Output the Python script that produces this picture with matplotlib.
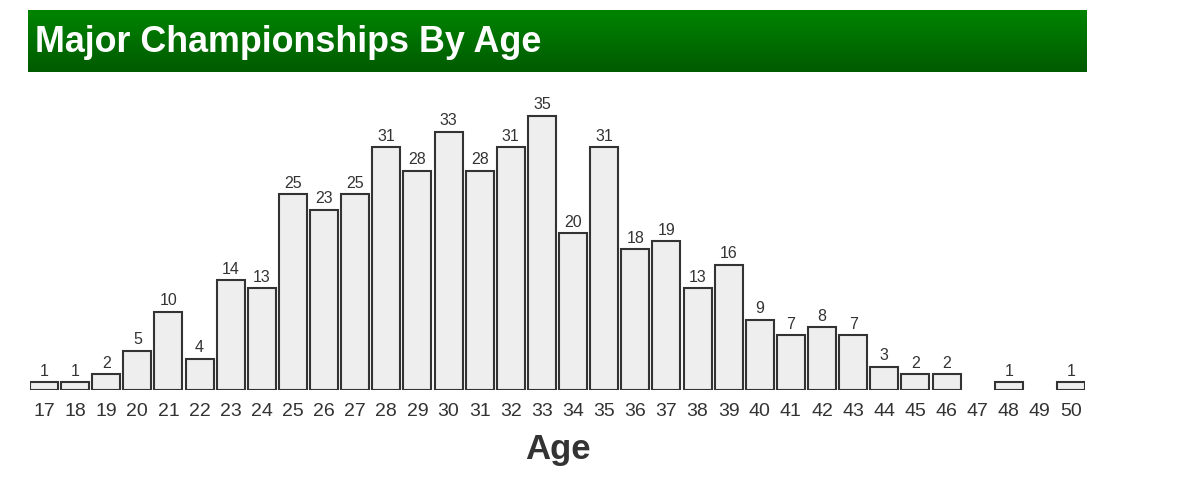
import numpy as np
import matplotlib
matplotlib.use("Agg")
import matplotlib.pyplot as plt

ages = list(range(17, 51))
counts = [1, 1, 2, 5, 10, 4, 14, 13, 25, 23, 25, 31, 28, 33, 28, 31, 35, 20, 31,
          18, 19, 13, 16, 9, 7, 8, 7, 3, 2, 2, 0, 1, 0, 1]
title = "Major Championships By Age"
xlabel = "Age"

plt.rcParams['font.family'] = ['Liberation Sans', 'DejaVu Sans']

W, H = 1179, 492
fig = plt.figure(figsize=(W / 100, H / 100), dpi=100)

# title banner with vertical gradient
bx0, bx1, by0, by1 = 28, 1087, 10, 72
bax = fig.add_axes([bx0 / W, 1 - by1 / H, (bx1 - bx0) / W, (by1 - by0) / H])
grad = np.linspace(0, 1, 100).reshape(-1, 1)
top = np.array([0x00, 0x84, 0x00]) / 255
bot = np.array([0x00, 0x5a, 0x00]) / 255
img = top[None, None, :] * (1 - grad[..., None]) + bot[None, None, :] * grad[..., None]
bax.imshow(img, aspect='auto', extent=[0, 1, 0, 1])
bax.set_axis_off()
bax.text(0.0066, 0.47, title, color='white', fontsize=25.8, fontweight='bold',
         va='center', ha='left', transform=bax.transAxes)

# main axes
base_px = 390
top_px = 108
ax = fig.add_axes([30 / W, 1 - base_px / H, (1085 - 30) / W, (base_px - top_px) / H])
nz_ages = [a for a, c in zip(ages, counts) if c > 0]
nz_counts = [c for c in counts if c > 0]
ax.bar(nz_ages, nz_counts, width=0.9, color='#eeeeee', edgecolor='#333333', linewidth=1.5)
for a, c in zip(nz_ages, nz_counts):
    ax.annotate(str(c), (a, c), xytext=(0, 2.5), textcoords='offset points',
                ha='center', va='bottom', fontsize=11.5, color='#333333')
ax.set_xlim(16.55, 50.45)
ax.set_ylim(0, 36)
ax.set_xticks(ages)
ax.set_xticklabels([str(a) for a in ages])
ax.tick_params(axis='x', length=0, pad=9, labelsize=14, labelcolor='#333333')
ax.set_yticks([])
for s in ax.spines.values():
    s.set_visible(False)
ax.set_xlabel(xlabel, fontsize=25, fontweight='bold', color='#333333', labelpad=10)

fig.savefig('out.png', dpi=100)
